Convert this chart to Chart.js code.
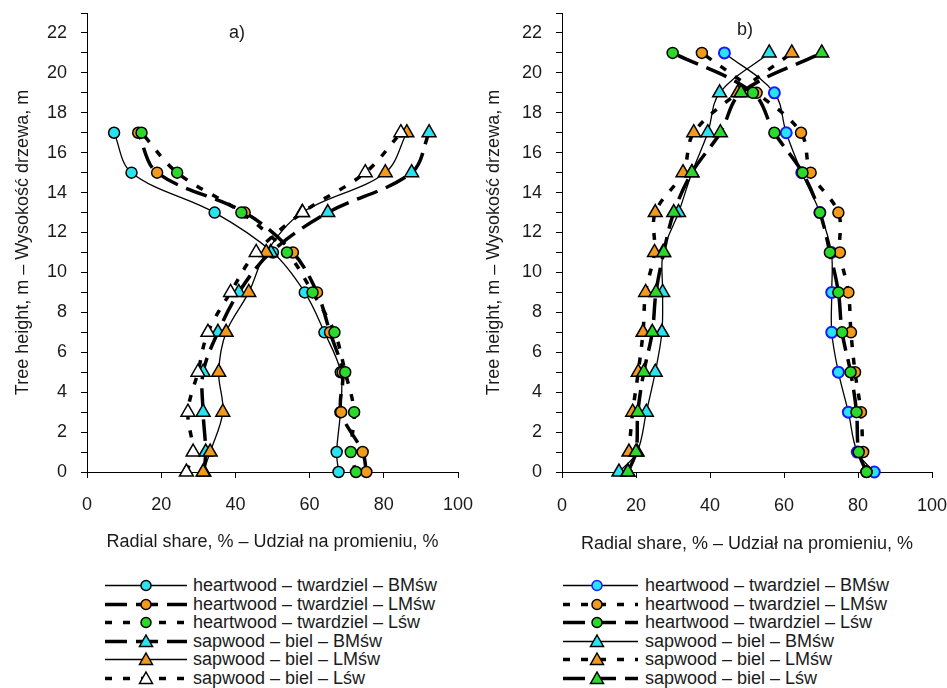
<!DOCTYPE html>
<html>
<head>
<meta charset="utf-8">
<script src="https://cdn.jsdelivr.net/npm/chart.js@4.4.1/dist/chart.umd.min.js"></script>
<style>
  html, body { margin: 0; padding: 0; background: #fff; width: 947px; height: 688px; overflow: hidden; }
  .wrap { position: absolute; top: 0; }
  canvas { display: block; }
  .tag, .legend { position: absolute; font: 18px 'Liberation Sans', Arial, sans-serif; color: #1a1a1a; }
  .legend .row { position: absolute; left: 0; height: 19px; line-height: 19px; white-space: nowrap; display: flex; align-items: center; }
  .legend svg { flex: none; }
</style>
</head>
<body>
<div class="wrap" style="left:0px"><canvas id="chartA" width="484" height="560"></canvas></div>
<div class="wrap" style="left:475px"><canvas id="chartB" width="472" height="560"></canvas></div>
<div class="tag" style="left:229px;top:22px">a)</div>
<div class="tag" style="left:737px;top:19px">b)</div>
<div class="legend" id="legendA" style="left:103px;top:576px"></div>
<div class="legend" id="legendB" style="left:562px;top:576px"></div>
<script>
const seriesNames = [
  'heartwood – twardziel – BMśw',
  'heartwood – twardziel – LMśw',
  'heartwood – twardziel – Lśw',
  'sapwood – biel – BMśw',
  'sapwood – biel – LMśw',
  'sapwood – biel – Lśw'
];

// panel a) – tree height (m) and radial share (%)
const heightsA = [0, 1, 3, 5, 7, 9, 11, 13, 15, 17];
const hwBMswA = [67.8, 67.3, 68.3, 68.4, 64.0, 58.7, 50.1, 34.4, 12.0, 7.3];
const hwLMswA = [75.3, 74.3, 68.5, 68.9, 65.5, 62.0, 55.5, 42.5, 18.9, 13.8];
const hwLswA  = [72.5, 71.1, 72.0, 69.6, 66.7, 60.8, 53.9, 41.6, 24.3, 14.7];
const swBMswA = [31.5, 32.0, 31.3, 31.3, 35.3, 40.9, 49.5, 64.9, 87.5, 92.2];
const swLMswA = [31.3, 33.2, 36.6, 35.5, 37.5, 43.6, 48.3, 58.0, 80.4, 86.2];
const swLswA  = [26.8, 28.6, 27.2, 29.9, 32.6, 38.7, 45.6, 58.1, 75.0, 84.6];

// panel b)
const heightsB = [0, 1, 3, 5, 7, 9, 11, 13, 15, 17, 19, 21];
const hwBMswB = [84.4, 79.8, 77.4, 74.7, 72.9, 72.9, 72.8, 69.7, 64.8, 60.6, 57.4, 43.9];
const hwLMswB = [82.3, 81.4, 80.8, 79.2, 78.1, 77.4, 75.1, 74.7, 67.2, 64.6, 52.6, 37.8];
const hwLswB  = [82.3, 80.2, 79.6, 78.0, 75.7, 74.7, 72.4, 69.7, 65.0, 57.4, 51.6, 29.9];
const swBMswB = [15.4, 20.3, 22.8, 25.2, 27.0, 27.2, 27.3, 31.5, 35.1, 39.4, 42.6, 56.0];
const swLMswB = [17.8, 18.1, 19.1, 20.6, 21.9, 22.6, 25.0, 25.2, 32.7, 35.6, 47.5, 62.1];
const swLswB  = [17.8, 20.0, 20.5, 22.1, 24.4, 25.4, 27.5, 30.2, 35.1, 42.8, 48.4, 70.2];

const xTicksStep = 20;
const yMax = 23;

const CYAN = '#29e4f0', ORANGE = '#f39a1c', GREEN = '#2bd92b', WHITE = '#ffffff';
const LONG = [22, 9], SHORT = [7, 11];
const font = { family: "'Liberation Sans', Arial, sans-serif", size: 18 };
const textColor = '#1a1a1a';

const stylesA = [
  { w: 1.3, dash: [],    pt: 'circle',   fill: CYAN,   edge: '#000' },
  { w: 3.5, dash: LONG,  pt: 'circle',   fill: ORANGE, edge: '#000' },
  { w: 3.5, dash: SHORT, pt: 'circle',   fill: GREEN,  edge: '#000' },
  { w: 3.5, dash: LONG,  pt: 'triangle', fill: CYAN,   edge: '#000' },
  { w: 1.3, dash: [],    pt: 'triangle', fill: ORANGE, edge: '#000' },
  { w: 3.5, dash: SHORT, pt: 'triangle', fill: WHITE,  edge: '#000' }
];
const stylesB = [
  { w: 1.3, dash: [],    pt: 'circle',   fill: CYAN,   edge: '#1a1aff' },
  { w: 3.5, dash: SHORT, pt: 'circle',   fill: ORANGE, edge: '#000' },
  { w: 3.5, dash: LONG,  pt: 'circle',   fill: GREEN,  edge: '#000' },
  { w: 1.3, dash: [],    pt: 'triangle', fill: CYAN,   edge: '#000' },
  { w: 3.5, dash: SHORT, pt: 'triangle', fill: ORANGE, edge: '#000' },
  { w: 3.5, dash: LONG,  pt: 'triangle', fill: GREEN,  edge: '#000' }
];

function makeDatasets(heights, seriesList, styles) {
  return seriesList.map((vals, i) => {
    const s = styles[i];
    return {
      label: seriesNames[i],
      data: heights.map((h, k) => ({ x: vals[k], y: h })),
      showLine: true,
      borderColor: '#000',
      borderWidth: s.w,
      borderDash: s.dash,
      tension: 0.35,
      pointStyle: s.pt,
      pointRadius: s.pt === 'circle' ? 5.5 : 8,
      pointBackgroundColor: s.fill,
      pointBorderColor: s.edge,
      pointBorderWidth: s.edge === '#000' ? 1.5 : 2,
      clip: false,
      order: seriesList.length - i
    };
  });
}

function makeChart(id, heights, seriesList, styles, yTitlePad, xTitlePad, xTickPad, rightPad) {
  const tickGrid = { display: true, drawOnChartArea: false, drawTicks: true, tickLength: 6, tickColor: '#000' };
  return new Chart(document.getElementById(id), {
    type: 'scatter',
    data: { datasets: makeDatasets(heights, seriesList, styles) },
    options: {
      responsive: false,
      animation: false,
      layout: { padding: { top: 13, left: 0, right: rightPad, bottom: 0 } },
      plugins: { legend: { display: false }, tooltip: { enabled: false } },
      scales: {
        x: {
          type: 'linear', min: 0, max: 100,
          afterFit: s => { s.height = 88; s.paddingLeft = 0; s.paddingRight = 0; },
          border: { display: true, color: '#000', width: 1 },
          grid: tickGrid,
          ticks: { stepSize: xTicksStep, padding: xTickPad, color: textColor, font: font },
          title: { display: true, text: 'Radial share, % – Udział na promieniu, %', color: textColor, font: font, padding: { top: 0, bottom: xTitlePad } }
        },
        y: {
          type: 'linear', min: 0, max: yMax,
          afterFit: s => { s.width = 87; s.paddingTop = 0; s.paddingBottom = 0; },
          border: { display: true, color: '#000', width: 1 },
          grid: tickGrid,
          ticks: { stepSize: 1, maxTicksLimit: 40, autoSkip: false, padding: 14, color: textColor, font: font,
                   callback: v => (v % 2 === 0 ? v : '') },
          title: { display: true, text: 'Tree height, m – Wysokość drzewa, m', color: textColor, font: font, padding: { top: yTitlePad, bottom: 0 } }
        }
      }
    }
  });
}

function buildLegend(elId, styles, svgW, x0, x1, xm) {
  const el = document.getElementById(elId);
  styles.forEach((s, i) => {
    const row = document.createElement('div');
    row.className = 'row';
    row.style.top = (i * 18.6) + 'px';
    let marker;
    if (s.pt === 'circle') {
      marker = `<circle cx="${xm}" cy="9.5" r="5" fill="${s.fill}" stroke="${s.edge}" stroke-width="1.5"/>`;
    } else {
      marker = `<polygon points="${xm},3 ${xm + 6.5},14.5 ${xm - 6.5},14.5" fill="${s.fill}" stroke="#000" stroke-width="1.5"/>`;
    }
    const dash = s.dash.length ? `stroke-dasharray="${s.dash.join(' ')}"` : '';
    row.innerHTML = `<svg width="${svgW}" height="19"><line x1="${x0}" y1="9.5" x2="${x1}" y2="9.5" stroke="#000" stroke-width="${s.w}" ${dash}/>${marker}</svg><span>${seriesNames[i]}</span>`;
    el.appendChild(row);
  });
}

makeChart('chartA', heightsA, [hwBMswA, hwLMswA, hwLswA, swBMswA, swLMswA, swLswA], stylesA, 12, 7, 16, 26);
makeChart('chartB', heightsB, [hwBMswB, hwLMswB, hwLswB, swBMswB, swLMswB, swLswB], stylesB, 8, 5, 17, 15);
buildLegend('legendA', stylesA, 90, 2, 84, 43);
buildLegend('legendB', stylesB, 83, 1, 76, 35);
</script>
</body>
</html>
